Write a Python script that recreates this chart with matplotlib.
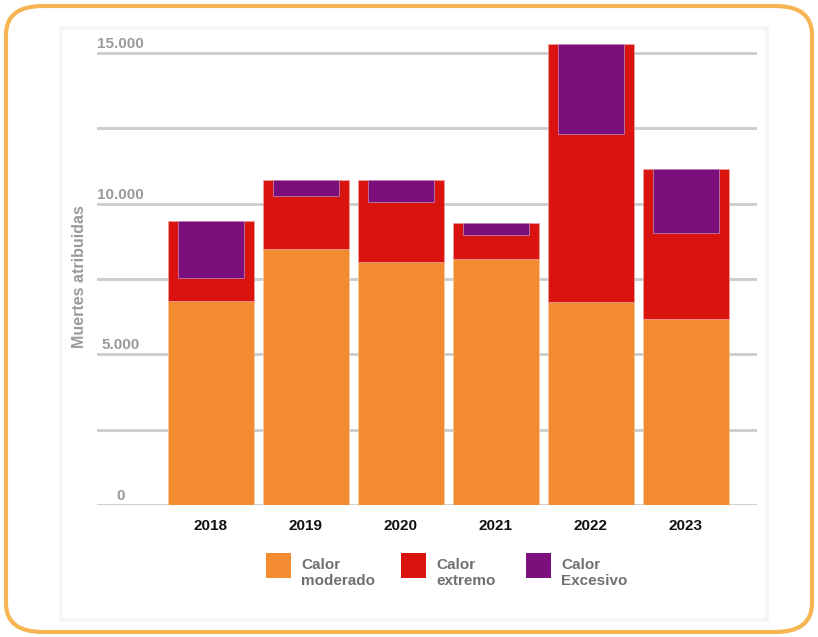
import matplotlib
matplotlib.use("Agg")
import matplotlib.pyplot as plt
from matplotlib.patches import FancyBboxPatch, Rectangle
import numpy as np

plt.rcParams['font.family'] = ['Liberation Sans', 'DejaVu Sans']

years = ['2018', '2019', '2020', '2021', '2022', '2023']
moderado = [6770, 8500, 8070, 8160, 6740, 6170]
extremo = [2655, 2290, 2720, 1195, 8560, 4980]
excesivo = [1890, 530, 730, 400, 2990, 2125]
yticks = [0, 2500, 5000, 7500, 10000, 12500, 15000]
ylabels = {0: '0', 5000: '5.000', 10000: '10.000', 15000: '15.000'}

c_mod = '#F38B30'
c_ext = '#D9140F'
c_exc = '#7B0F7B'
grey = '#9a9a9a'

W, H = 818, 637
fig = plt.figure(figsize=(W / 100, H / 100), dpi=100)

def fx(px):
    return px / W

def fy(py):
    return 1 - py / H

# outer frame + inner panel
fig.add_artist(FancyBboxPatch((fx(6), fy(632)), fx(806), 626 / H,
                              boxstyle="round,pad=0,rounding_size=0.045",
                              transform=fig.transFigure, facecolor='white',
                              edgecolor='#F6B552', linewidth=3, zorder=0))
fig.add_artist(Rectangle((fx(61), fy(620)), fx(706), 592 / H,
                         transform=fig.transFigure, facecolor='none',
                         edgecolor='#f6f6f9', linewidth=3, zorder=0))

ax = fig.add_axes([fx(97), fy(505), fx(660), (505 - 39.5) / H])
ax.set_facecolor('none')
x = np.arange(len(years))
mod = np.array(moderado)
ext = np.array(extremo)
exc = np.array(excesivo)
top = mod + ext

ax.bar(x, mod, width=0.9, color=c_mod, edgecolor='#f8c9a0', linewidth=0.5, zorder=2)
ax.bar(x, ext, bottom=mod, width=0.9, color=c_ext, edgecolor='#f0a0a0', linewidth=0.5, zorder=2)
ax.bar(x, exc, bottom=top - exc, width=0.7, color=c_exc, edgecolor='#c090c0', linewidth=0.5, zorder=3)

ax.set_xlim(-1.2, 5.75)
ax.set_ylim(0, 15450)
for v in yticks:
    ax.axhline(v, color='#cccccc', lw=2, zorder=1)
    if v in ylabels:
        ax.text(0.036, v + 70, ylabels[v], transform=ax.get_yaxis_transform(),
                ha='center', va='bottom', fontsize=11, fontweight='bold', color=grey)

ax.set_xticks(x)
ax.set_xticklabels(years, fontsize=11, fontweight='bold', color='#111111')
ax.tick_params(axis='x', length=0, pad=10)
ax.set_yticks([])
for s in ax.spines.values():
    s.set_visible(False)

fig.text(fx(80), fy(277), 'Muertes atribuidas', rotation=90, ha='center', va='center',
         fontsize=11.5, fontweight='bold', color=grey)

# legend
leg = [(266, c_mod, 'Calor\nmoderado'), (401, c_ext, 'Calor\nextremo'), (526, c_exc, 'Calor\nExcesivo')]
for px, col, lab in leg:
    fig.add_artist(Rectangle((fx(px), fy(578)), fx(25), 25 / H, transform=fig.transFigure,
                             facecolor=col, edgecolor='none'))
    fig.text(fx(px + 35), fy(573), lab, ha='left', va='center', fontsize=11,
             fontweight='bold', color='#707070', linespacing=1.15)

fig.savefig('out.png', dpi=100)
